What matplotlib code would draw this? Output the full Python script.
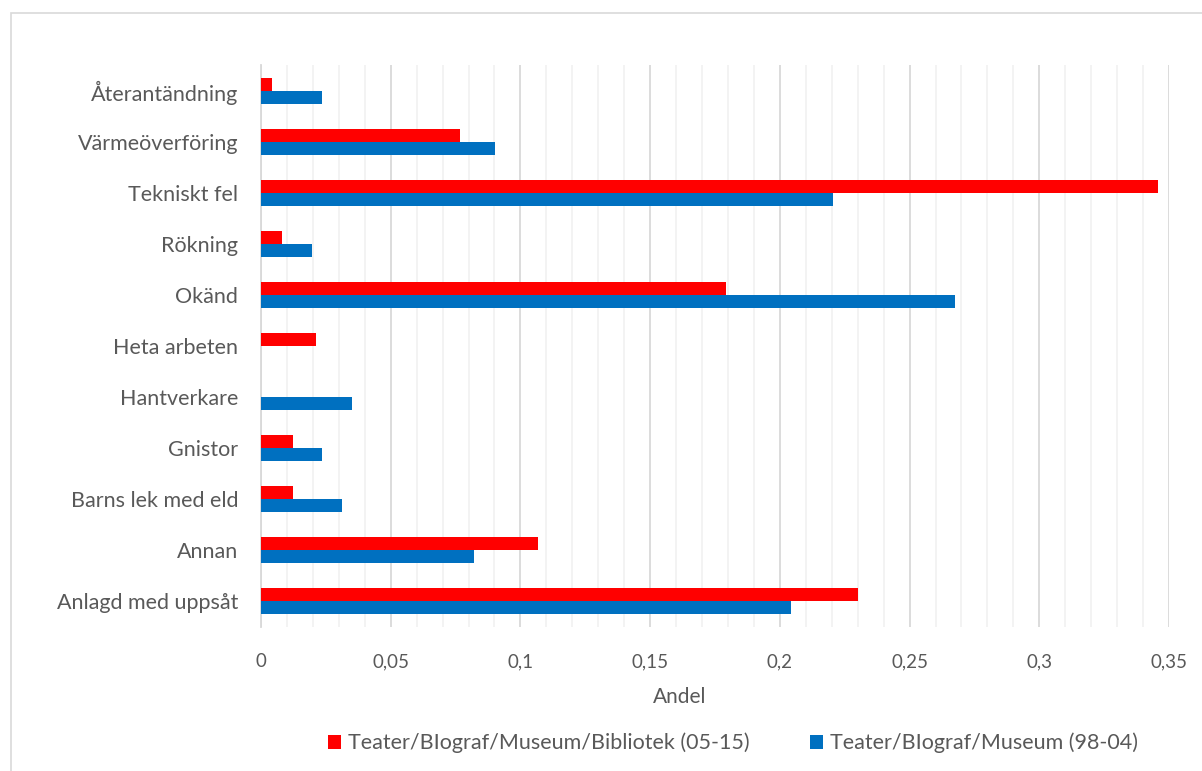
import matplotlib
matplotlib.use("Agg")
import matplotlib.pyplot as plt
from matplotlib.ticker import MultipleLocator, FuncFormatter
from matplotlib.patches import Rectangle
import numpy as np

# Causes of fire, listed bottom to top as drawn on the y axis
categories = [
    "Anlagd med uppsåt", "Annan", "Barns lek med eld", "Gnistor", "Hantverkare",
    "Heta arbeten", "Okänd", "Rökning", "Tekniskt fel", "Värmeöverföring",
    "Återantändning",
]
share_05_15 = [0.2301, 0.1068, 0.0123, 0.0123, 0.0, 0.0212, 0.1793, 0.0081, 0.3458, 0.0767, 0.0042]
share_98_04 = [0.2043, 0.0821, 0.0312, 0.0235, 0.0351, 0.0, 0.2675, 0.0197, 0.2205, 0.0902, 0.0235]

label_05_15 = "Teater/BIograf/Museum/Bibliotek (05-15)"
label_98_04 = "Teater/BIograf/Museum (98-04)"
x_ticks = [0, 0.05, 0.1, 0.15, 0.2, 0.25, 0.3, 0.35]

RED = "#FF0000"
BLUE = "#0070C0"
TEXT = "#595959"

plt.rcParams["font.family"] = ["Lato", "DejaVu Sans"]

fig = plt.figure(figsize=(12.02, 7.71), dpi=100)
ax = fig.add_axes([261 / 1202, 1 - 627 / 771, (1169 - 261) / 1202, (627 - 65) / 771])

# Outer chart frame
fig.patches.append(Rectangle((11 / 1202, -0.05), 1.2, 1 - 13 / 771 + 0.05,
                             transform=fig.transFigure, fill=False,
                             edgecolor="#D9D9D9", linewidth=1.2))

y = np.arange(len(categories))
h = 0.255
ax.barh(y + h / 2, share_05_15, height=h, color=RED, label=label_05_15, zorder=3)
ax.barh(y - h / 2, share_98_04, height=h, color=BLUE, label=label_98_04, zorder=3)

ax.set_ylim(-0.5, len(categories) - 0.5)
ax.set_xlim(0, 0.35)
ax.set_yticks(y)
ax.set_yticklabels(categories, fontsize=15.5, color=TEXT)
ax.set_xticks(x_ticks)
ax.xaxis.set_major_formatter(FuncFormatter(lambda v, p: ("%g" % round(v, 2)).replace(".", ",")))
ax.xaxis.set_minor_locator(MultipleLocator(0.01))
ax.tick_params(axis="x", which="both", length=0, labelsize=13.5, labelcolor=TEXT, pad=19)
ax.tick_params(axis="y", length=0, pad=16.5)

ax.grid(axis="x", which="major", color="#D9D9D9", linewidth=1.3, zorder=0)
ax.grid(axis="x", which="minor", color="#F2F2F2", linewidth=1.3, zorder=0)
for side in ["top", "right", "bottom"]:
    ax.spines[side].set_visible(False)
ax.spines["left"].set_color("#D9D9D9")
ax.spines["left"].set_linewidth(1.3)
ax.set_axisbelow(True)

ax.set_xlabel("Andel", fontsize=15, color=TEXT, labelpad=12)
ax.xaxis.set_label_coords((680 - 261) / 908, -(697 - 627) / 562, transform=ax.transAxes)
ax.xaxis.label.set_verticalalignment("center")

fig.legend(loc="center", bbox_to_anchor=(733 / 1202, 1 - 743 / 771), ncol=2,
           frameon=False, fontsize=15.5, labelcolor=TEXT,
           handlelength=0.6, handleheight=0.6, handletextpad=0.35,
           columnspacing=2.8)

fig.savefig("out.png", dpi=100)
